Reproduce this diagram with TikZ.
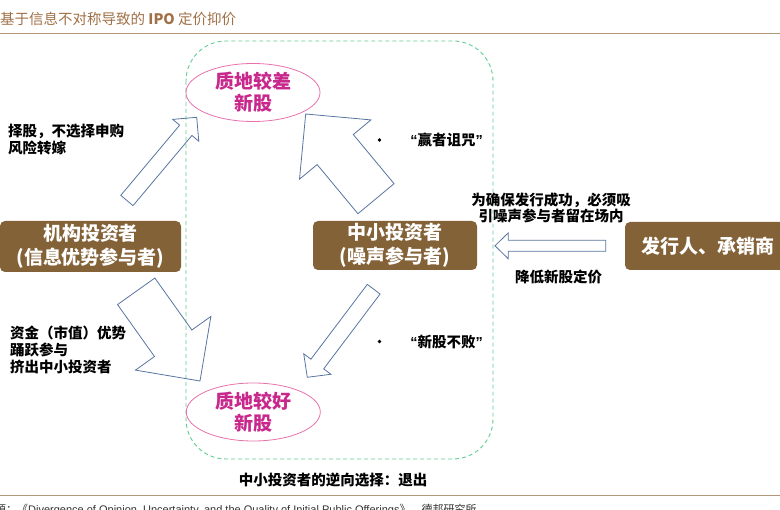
\documentclass[tikz,border=0pt]{standalone}
\usepackage{fontspec}
\setmainfont{Noto Sans CJK SC}
\newfontfamily\latinfont{Liberation Sans}
\usetikzlibrary{calc,shapes.geometric}

\definecolor{boxbrown}{RGB}{132,98,56}
\definecolor{titlebrown}{RGB}{160,112,70}
\definecolor{rulebrown}{RGB}{180,150,120}
\definecolor{dashgreen}{RGB}{95,205,145}
\definecolor{ellpink}{RGB}{232,112,172}
\definecolor{stockmag}{RGB}{200,40,140}
\definecolor{arrowblue}{RGB}{88,116,160}

\tikzset{
  player/.style={fill=boxbrown,rounded corners=5pt,text=white,align=center,
    font=\bfseries\fontsize{19}{24}\selectfont,inner sep=0pt},
  stock/.style={ellipse,draw=ellpink,line width=0.8pt,text=stockmag,align=center,
    minimum width=134pt,minimum height=58pt,inner sep=0pt,
    font=\bfseries\fontsize{19}{22}\selectfont},
  note/.style={align=left,inner sep=0pt,font=\bfseries\fontsize{14.5}{17}\selectfont},
  fat/.style={draw=arrowblue,line width=0.8pt},
  dashbox/.style={draw=dashgreen,line width=0.9pt,dash pattern=on 4pt off 3pt,rounded corners=40pt}
}

% hollow block arrow: tail, tip, half shaft, half head, head length
\newcommand{\fatarrow}[5]{%
  \coordinate (fa-s) at #1;
  \coordinate (fa-e) at #2;
  \coordinate (fa-b) at ($(fa-e)!#5!(fa-s)$);
  \draw[fat] ($(fa-s)!#3!90:(fa-e)$) -- ($(fa-b)!#3!-90:(fa-s)$) -- ($(fa-b)!#4!-90:(fa-s)$)
    -- (fa-e) -- ($(fa-b)!#4!90:(fa-s)$) -- ($(fa-b)!#3!90:(fa-s)$) -- ($(fa-s)!#3!-90:(fa-e)$) -- cycle;
}

\begin{document}
\begin{tikzpicture}[x=1pt,y=-1pt]
\useasboundingbox (0,0) rectangle (780,510);

% title and rules
\node[anchor=west,inner sep=0pt,text=titlebrown,font=\fontsize{14.5}{17}\selectfont] (title) at (0,19)
  {基于信息不对称导致的 \textbf{IPO} 定价抑价};
\draw[rulebrown,line width=1pt] (0,33.5) -- (780,33.5);
\draw[rulebrown,line width=1pt] (0,496) -- (780,496);
\node[anchor=base west,inner sep=0pt,text=black!80,font=\fontsize{11}{13}\selectfont] (src) at (-5,514)
  {源：《{\latinfont Divergence of Opinion, Uncertainty, and the Quality of Initial Public Offerings}》，德邦研究所};

% market area
\draw[dashbox] (186,41) rectangle (493,459);
\node[stock] (worse) at (253,92.5) {质地较差\\新股};
\node[stock] (better) at (253.3,412) {质地较好\\新股};

% participants
\node[player,minimum width=181pt,minimum height=51pt] (inst) at (90.5,246.5) {机构投资者\\(信息优势参与者)};
\node[player,minimum width=164pt,minimum height=49pt] (retail) at (395,245.5) {中小投资者\\(噪声参与者)};
\node[player,minimum width=165pt,minimum height=48pt] (issuer) at (707.5,246) {发行人、承销商};

% arrows
\fatarrow{(126.9,200.5)}{(196.7,117.3)}{8pt}{17pt}{17pt}
\fatarrow{(376,198.7)}{(305.7,114)}{23.5pt}{46.4pt}{46.2pt}
\fatarrow{(136.2,291.3)}{(200,381)}{22.9pt}{46.3pt}{46.3pt}
\fatarrow{(373.7,289.2)}{(307.3,377.3)}{8pt}{17pt}{16.6pt}
\fatarrow{(605.7,245.8)}{(495,245.8)}{5.5pt}{13pt}{13.3pt}

% labels
\node[note,anchor=west] (pick) at (8,140) {择股，不选择申购\\风险转嫁};
\node[note,anchor=west] (fund) at (10,350) {资金（市值）优势\\踊跃参与\\挤出中小投资者};
\node[note,align=center,font=\bfseries\fontsize{14.5}{16}\selectfont] (keep) at (551,207.5)
  {为确保发行成功，必须吸\\引噪声参与者留在场内};
\node[note] (cut) at (558.7,277.3) {降低新股定价};
\node[circle,fill,inner sep=1.4pt] (dot1) at (379.5,140) {};
\node[note] (curse) at (446.5,140) {{\latinfont\bfseries “}赢者诅咒{\latinfont\bfseries ”}};
\node[circle,fill,inner sep=1.4pt] (dot2) at (379.5,341.5) {};
\node[note] (never) at (446.5,341.5) {{\latinfont\bfseries “}新股不败{\latinfont\bfseries ”}};
\node[note] (exit) at (333,480) {中小投资者的逆向选择：退出};
\end{tikzpicture}
\end{document}
